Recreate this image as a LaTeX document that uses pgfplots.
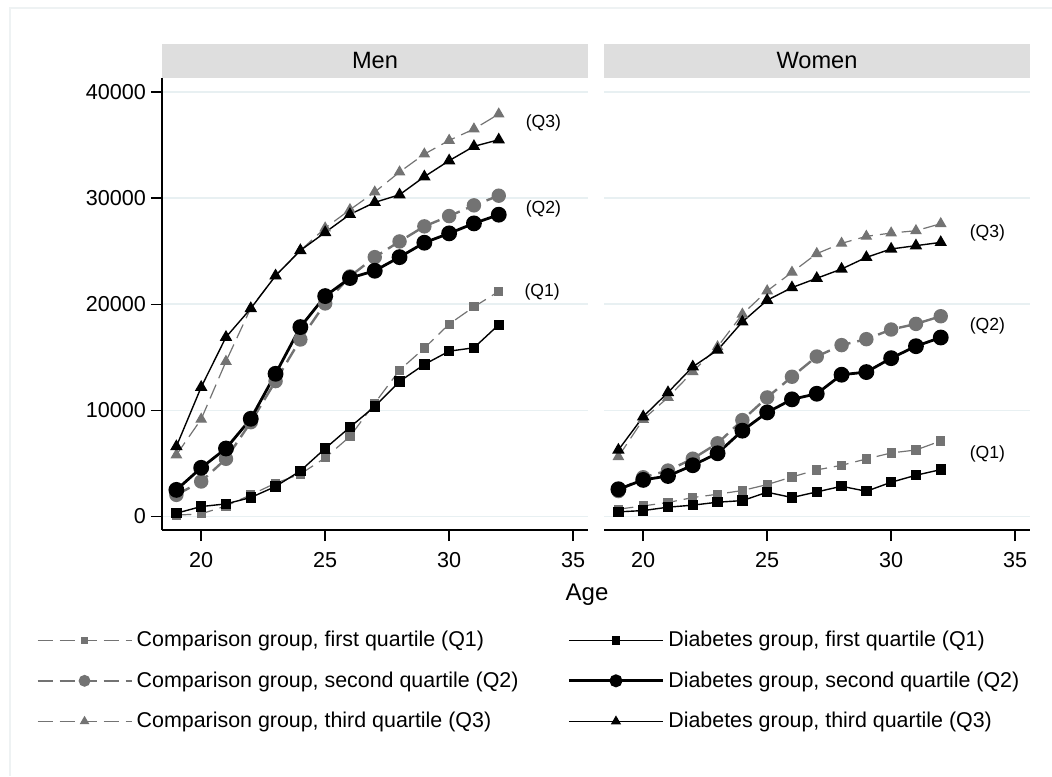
\documentclass[border=0pt]{standalone}
\usepackage{pgfplots}
\pgfplotsset{compat=1.18}
\usepackage{pgfplotstable}
\usepackage{fontspec}
\setmainfont{Liberation Sans}

\definecolor{compgray}{HTML}{737373}
\definecolor{gridclr}{HTML}{E8F0F2}
\definecolor{stripclr}{HTML}{DEDEDE}
\definecolor{frameclr}{HTML}{EEF2F3}

% age, comparison Q1-Q3, diabetes Q1-Q3
\pgfplotstableread{
age cq1 cq2 cq3 dq1 dq2 dq3
19 130 2040 5810 310 2510 6600
20 250 3300 9170 940 4590 12190
21 1000 5440 14610 1190 6410 16900
22 2040 8890 19640 1790 9210 19600
23 3140 12760 22690 2830 13450 22690
24 4000 16680 25070 4300 17850 25070
25 5530 20080 27180 6410 20770 26770
26 7540 22620 28910 8420 22470 28470
27 10680 24440 30570 10370 23160 29600
28 13790 25920 32460 12730 24440 30320
29 15870 27340 34150 14330 25800 32020
30 18130 28310 35440 15580 26680 33530
31 19760 29320 36510 15900 27620 34880
32 21210 30230 37920 18070 28440 35500
}\men

\pgfplotstableread{
age cq1 cq2 cq3 dq1 dq2 dq3
19 690 2400 5640 440 2570 6270
20 1000 3700 9150 560 3450 9410
21 1320 4330 11220 880 3820 11690
22 1790 5450 13640 1070 4830 14110
23 2100 6900 15990 1350 5960 15680
24 2450 9090 19060 1500 8090 18340
25 3010 11220 21260 2290 9810 20380
26 3730 13170 23010 1790 11040 21570
27 4390 15080 24770 2320 11570 22450
28 4830 16150 25740 2850 13360 23320
29 5420 16710 26400 2380 13610 24420
30 5990 17620 26710 3230 14920 25210
31 6270 18150 26930 3890 16050 25520
32 7120 18870 27590 4420 16870 25830
}\women

\tikzset{qlab/.style={font=\fontsize{8.8}{10}\selectfont}}

\pgfplotsset{
  panel/.style={
    scale only axis, width=213pt, height=226pt,
    xmin=18.42, xmax=35.6, ymin=-1270, ymax=41320,
    xtick={20,25,30,35}, ytick={0,10000,20000,30000,40000},
    axis x line*=bottom, axis y line*=left,
    axis line style={line width=0.75pt, black},
    tick align=outside, major tick length=5.5pt,
    tick style={line width=0.75pt, black},
    ymajorgrids, grid style={gridclr, line width=0.8pt},
    scaled y ticks=false,
    /pgf/number format/1000 sep={},
    /pgf/number format/assume math mode=true,
    ticklabel style={font=\fontsize{10.8}{12}\selectfont},
    xticklabel style={yshift=-2pt},
    yticklabel style={xshift=1pt},
    legend image code/.code={\draw[mark repeat=2,mark phase=2,##1,every mark/.append style={scale=0.78}] plot coordinates {(0pt,0pt) (23.5pt,0pt) (47pt,0pt)};},
  },
  cmp1/.style={compgray, line width=0.6pt, dash pattern=on 7.5pt off 3.5pt, mark=square*, mark size=2pt, mark options={solid}},
  cmp2/.style={compgray, line width=1.2pt, dash pattern=on 7.5pt off 3.5pt, mark=*, mark size=3pt, mark options={solid}},
  cmp3/.style={compgray, line width=0.6pt, dash pattern=on 7.5pt off 3.5pt, mark=triangle*, mark size=2.8pt, mark options={solid}},
  dia1/.style={black, line width=0.7pt, mark=square*, mark size=2.25pt},
  dia2/.style={black, line width=1.4pt, mark=*, mark size=3.25pt},
  dia3/.style={black, line width=0.7pt, mark=triangle*, mark size=2.9pt},
}

\begin{document}
\begin{tikzpicture}
\path[use as bounding box] (0,0) rectangle (526pt,388pt);
\draw[frameclr, line width=0.6pt] (5pt,0pt) -- (5pt,384pt) -- (526pt,384pt);

% panel strips
\fill[stripclr] (81pt,349pt) rectangle (294pt,366pt);
\fill[stripclr] (302pt,349pt) rectangle (515pt,366pt);
\node[font=\fontsize{11.8}{13}\selectfont] at (187.5pt,357.5pt) {Men};
\node[font=\fontsize{11.8}{13}\selectfont] at (408.5pt,357.5pt) {Women};

\begin{axis}[panel, at={(81pt,123pt)}, anchor=south west,
  legend columns=2,
  legend cell align=left,
  legend style={draw=none, fill=none, at={(-0.31,-0.205)}, anchor=north west,
    font=\fontsize{10.7}{12}\selectfont, row sep=7pt,
    /tikz/every even column/.append style={column sep=22.5pt}},
]
\addplot[cmp1] table[x=age, y=cq1] {\men};
\addlegendentry{Comparison group, first quartile (Q1)}
\addplot[dia1] table[x=age, y=dq1] {\men};
\addlegendentry{Diabetes group, first quartile (Q1)}
\addplot[cmp2] table[x=age, y=cq2] {\men};
\addlegendentry{Comparison group, second quartile (Q2)}
\addplot[dia2] table[x=age, y=dq2] {\men};
\addlegendentry{Diabetes group, second quartile (Q2)}
\addplot[cmp3] table[x=age, y=cq3] {\men};
\addlegendentry{Comparison group, third quartile (Q3)}
\addplot[dia3] table[x=age, y=dq3] {\men};
\addlegendentry{Diabetes group, third quartile (Q3)}
\node[qlab] at (axis cs:33.8,37080) {(Q3)};
\node[qlab] at (axis cs:33.8,29000) {(Q2)};
\node[qlab] at (axis cs:33.75,21150) {(Q1)};
\end{axis}

\begin{axis}[panel, at={(302pt,123pt)}, anchor=south west,
  yticklabels={}, y axis line style={draw=none}, ytick style={draw=none},
]
\addplot[cmp1] table[x=age, y=cq1] {\women};
\addplot[dia1] table[x=age, y=dq1] {\women};
\addplot[cmp2] table[x=age, y=cq2] {\women};
\addplot[dia2] table[x=age, y=dq2] {\women};
\addplot[cmp3] table[x=age, y=cq3] {\women};
\addplot[dia3] table[x=age, y=dq3] {\women};
\node[qlab] at (axis cs:33.88,26710) {(Q3)};
\node[qlab] at (axis cs:33.88,17960) {(Q2)};
\node[qlab] at (axis cs:33.88,5860) {(Q1)};
\end{axis}

\node[font=\fontsize{12}{14}\selectfont] at (293.5pt,90.5pt) {Age};
\end{tikzpicture}
\end{document}
